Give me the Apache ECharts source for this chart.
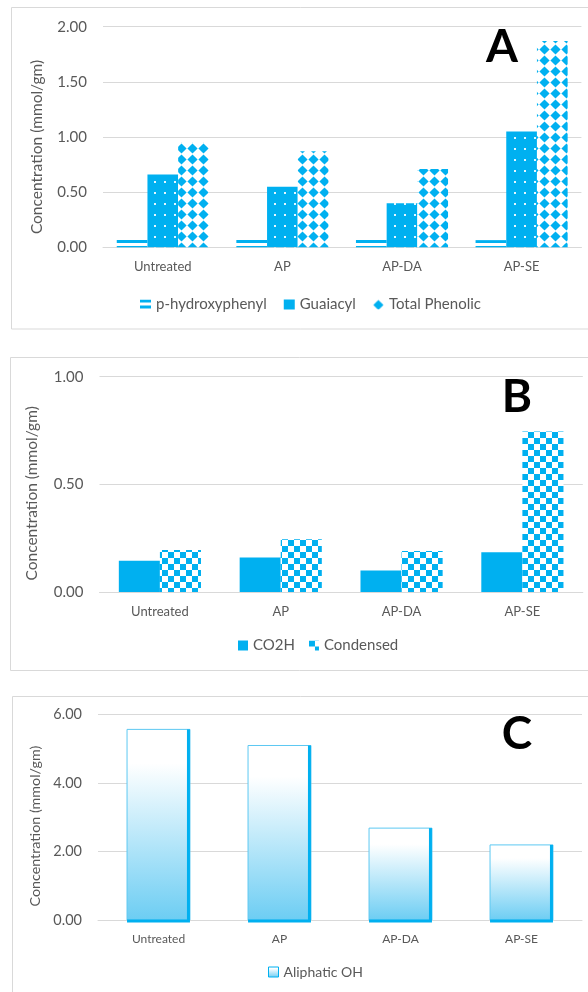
<!DOCTYPE html>
<html>
<head>
<meta charset="utf-8">
<script src="https://cdn.jsdelivr.net/npm/echarts@6/dist/echarts.min.js"></script>
<style>
  html, body { margin: 0; padding: 0; background: #ffffff; }
  #chart { width: 588px; height: 992px; }
</style>
</head>
<body>
<div id="chart"></div>
<script>
// Treatments on the category axis
const categories = ['Untreated', 'AP', 'AP-DA', 'AP-SE'];

// Panel A: phenolic hydroxyl groups (mmol/gm)
const pHydroxyphenyl = [0.07, 0.07, 0.07, 0.065];
const guaiacyl = [0.66, 0.55, 0.40, 1.05];
const totalPhenolic = [0.95, 0.87, 0.71, 1.87];

// Panel B: carboxylic acid and condensed units (mmol/gm)
const co2h = [0.145, 0.16, 0.10, 0.185];
const condensed = [0.195, 0.245, 0.19, 0.745];

// Panel C: aliphatic hydroxyl groups (mmol/gm)
const aliphaticOH = [5.56, 5.09, 2.68, 2.19];

// Value-axis ticks for each panel
const ticksA = [0, 0.5, 1.0, 1.5, 2.0];
const ticksB = [0, 0.5, 1.0];
const ticksC = [0, 2, 4, 6];

const BLUE = '#00b0f0';
const TEXT = '#595959';
const GRID = '#d9d9d9';
const FONT = 'Lato, "Open Sans", sans-serif';

// Small repeating tiles used as fill patterns
function tile(w, h, draw) {
  const c = document.createElement('canvas');
  c.width = w; c.height = h;
  const g = c.getContext('2d');
  draw(g, w, h);
  return c;
}
const stripeTile = tile(6, 6, (g) => {
  g.fillStyle = '#ffffff'; g.fillRect(0, 0, 6, 6);
  g.fillStyle = BLUE; g.fillRect(0, 0, 6, 3);
});
const dotTile = tile(10, 11, (g) => {
  g.fillStyle = BLUE; g.fillRect(0, 0, 10, 11);
  g.fillStyle = 'rgba(255,255,255,0.9)'; g.fillRect(4, 5, 2, 2);
});
const diamondTile = tile(11, 11, (g) => {
  g.fillStyle = '#ffffff'; g.fillRect(0, 0, 11, 11);
  g.fillStyle = BLUE;
  g.beginPath();
  g.moveTo(5.5, 0.4); g.lineTo(10.6, 5.5); g.lineTo(5.5, 10.6); g.lineTo(0.4, 5.5);
  g.closePath(); g.fill();
});
const checkTile = tile(12, 12, (g) => {
  g.fillStyle = '#ffffff'; g.fillRect(0, 0, 12, 12);
  g.fillStyle = BLUE; g.fillRect(0, 0, 6, 6); g.fillRect(6, 6, 6, 6);
});
const pattern = (img) => ({ image: img, repeat: 'repeat' });

const chart = echarts.init(document.getElementById('chart'), null, { renderer: 'canvas' });

// shift pushes the rotated axis title downward along the axis
function valueAxis(gridIndex, ticks, nameGap, labelSize, nameSize, shift) {
  return {
    type: 'value', gridIndex,
    min: ticks[0], max: ticks[ticks.length - 1], interval: ticks[1] - ticks[0],
    name: 'Concentration (mmol/gm)', nameLocation: 'middle', nameGap,
    nameTextStyle: { color: TEXT, fontSize: nameSize, fontFamily: FONT,
      padding: [0, shift * 2, 0, 0] },
    axisLine: { show: false }, axisTick: { show: false },
    axisLabel: { color: TEXT, fontSize: labelSize, fontFamily: FONT, margin: 16,
      formatter: (v) => v.toFixed(2) },
    splitLine: { lineStyle: { color: GRID, width: 1 } }
  };
}
function categoryAxis(gridIndex, fontSize) {
  return {
    type: 'category', gridIndex, data: categories,
    axisLine: { lineStyle: { color: GRID, width: 1 } },
    axisTick: { show: false },
    axisLabel: { color: TEXT, fontSize, fontFamily: FONT, margin: 13 }
  };
}

const aliphaticStops = [
  { offset: 0, color: '#ffffff' },
  { offset: 0.18, color: '#ffffff' },
  { offset: 1, color: '#6ccdf3' }
];
const aliphaticFill = new echarts.graphic.LinearGradient(0, 0, 0, 1, aliphaticStops);

chart.setOption({
  animation: false,
  backgroundColor: '#ffffff',
  grid: [
    { left: 103, top: 26.7, width: 478.4, height: 220.6 },
    { left: 99.5, top: 376.7, width: 483.3, height: 215.3 },
    { left: 98, top: 714.3, width: 484, height: 205.7 }
  ],
  xAxis: [categoryAxis(0, 13), categoryAxis(1, 13), categoryAxis(2, 12)],
  yAxis: [
    valueAxis(0, ticksA, 58, 15, 15.5, 10),
    valueAxis(1, ticksB, 60, 15, 15.5, 9),
    valueAxis(2, ticksC, 54, 14.5, 14.3, 9)
  ],
  legend: [
    { left: 135, top: 292, icon: 'rect', itemWidth: 11, itemHeight: 10, itemGap: 17,
      textStyle: { color: TEXT, fontSize: 15, fontFamily: FONT },
      data: ['p-hydroxyphenyl', { name: 'Guaiacyl', itemStyle: { color: BLUE } }, 'Total Phenolic'] },
    { left: 233, top: 633, icon: 'rect', itemWidth: 10, itemHeight: 10, itemGap: 14,
      textStyle: { color: TEXT, fontSize: 15, fontFamily: FONT },
      data: ['CO2H', 'Condensed'] },
    { left: 263, top: 960, icon: 'rect', itemWidth: 10, itemHeight: 10,
      textStyle: { color: TEXT, fontSize: 14, fontFamily: FONT },
      data: [{ name: 'Aliphatic OH', itemStyle: { color: aliphaticFill, borderColor: BLUE, borderWidth: 1 } }] }
  ],
  series: [
    { name: 'p-hydroxyphenyl', type: 'bar', xAxisIndex: 0, yAxisIndex: 0,
      data: pHydroxyphenyl, barGap: '0%', barCategoryGap: '23%',
      itemStyle: { color: pattern(stripeTile) } },
    { name: 'Guaiacyl', type: 'bar', xAxisIndex: 0, yAxisIndex: 0,
      data: guaiacyl, barGap: '0%', barCategoryGap: '23%',
      itemStyle: { color: pattern(dotTile) } },
    { name: 'Total Phenolic', type: 'bar', xAxisIndex: 0, yAxisIndex: 0,
      data: totalPhenolic, barGap: '0%', barCategoryGap: '23%',
      itemStyle: { color: pattern(diamondTile) } },
    { name: 'CO2H', type: 'bar', xAxisIndex: 1, yAxisIndex: 1,
      data: co2h, barGap: '0%', barCategoryGap: '32%',
      itemStyle: { color: BLUE } },
    { name: 'Condensed', type: 'bar', xAxisIndex: 1, yAxisIndex: 1,
      data: condensed, barGap: '0%', barCategoryGap: '32%',
      itemStyle: { color: pattern(checkTile) } },
    { name: 'Aliphatic OH', type: 'custom', xAxisIndex: 2, yAxisIndex: 2,
      itemStyle: { color: aliphaticFill },
      data: aliphaticOH.map((v, i) => [i, v]),
      encode: { x: 0, y: 1 },
      renderItem: function (params, api) {
        const top = api.coord([api.value(0), api.value(1)]);
        const base = api.coord([api.value(0), 0]);
        const bw = api.size([1, 0])[0] * 0.52;
        const x0 = top[0] - bw / 2;
        const h = base[1] - top[1];
        return {
          type: 'group',
          children: [
            { type: 'rect', shape: { x: x0, y: top[1], width: bw, height: h },
              style: { fill: new echarts.graphic.LinearGradient(0, 0, 0, 1, aliphaticStops),
                stroke: '#5cc8f2', lineWidth: 1 } },
            { type: 'rect', shape: { x: x0 + bw - 3, y: top[1], width: 3, height: h },
              style: { fill: BLUE } },
            { type: 'rect', shape: { x: x0, y: base[1] - 0.5, width: bw, height: 3 },
              style: { fill: BLUE } }
          ]
        };
      } }
  ],
  graphic: [
    { type: 'rect', shape: { x: 11.5, y: 7.5, width: 620, height: 321.5 },
      style: { fill: 'none', stroke: GRID, lineWidth: 1 }, silent: true },
    { type: 'rect', shape: { x: 10.5, y: 357.5, width: 620, height: 313 },
      style: { fill: 'none', stroke: GRID, lineWidth: 1 }, silent: true },
    { type: 'rect', shape: { x: 12.5, y: 696.5, width: 620, height: 400 },
      style: { fill: 'none', stroke: GRID, lineWidth: 1 }, silent: true },
    { type: 'text', x: 502, y: 47,
      style: { text: 'A', fill: '#000000', font: 'bold 46px Lato, sans-serif',
        textAlign: 'center', textVerticalAlign: 'middle' } },
    { type: 'text', x: 517, y: 397,
      style: { text: 'B', fill: '#000000', font: 'bold 46px Lato, sans-serif',
        textAlign: 'center', textVerticalAlign: 'middle' } },
    { type: 'text', x: 517, y: 734,
      style: { text: 'C', fill: '#000000', font: 'bold 46px Lato, sans-serif',
        textAlign: 'center', textVerticalAlign: 'middle' } }
  ]
});
</script>
</body>
</html>
